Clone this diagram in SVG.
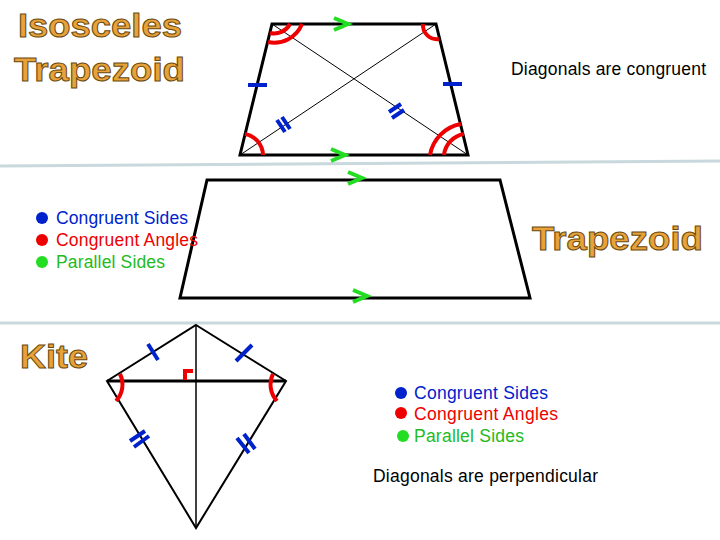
<svg xmlns="http://www.w3.org/2000/svg" width="720" height="540" viewBox="0 0 720 540">
<style>
.t{font-family:"Liberation Sans",Arial,sans-serif;font-weight:bold;font-size:34px;fill:#E8A23A;stroke:#6b4a10;stroke-width:1}
.l{font-family:"Liberation Sans",Arial,sans-serif;font-size:17.5px}
.e{fill:none;stroke:#000;stroke-width:3}
.d{fill:none;stroke:#000;stroke-width:1}
.r{fill:none;stroke:#e00;stroke-width:4}
.b{fill:none;stroke:#0022cc;stroke-width:4}
.g{fill:none;stroke:#22dd22;stroke-width:4}
.s{stroke:#c8d8dc;stroke-width:3}
</style>
<rect width="720" height="540" fill="#fff"/>
<line class="s" x1="0" y1="166" x2="720" y2="161"/>
<line class="s" x1="0" y1="323" x2="720" y2="323"/>
<g id="titles">
<text class="t" x="18" y="37" textLength="164" lengthAdjust="spacingAndGlyphs">Isosceles</text>
<text class="t" x="14" y="81" textLength="171" lengthAdjust="spacingAndGlyphs">Trapezoid</text>
<text class="t" x="532" y="250" textLength="171" lengthAdjust="spacingAndGlyphs">Trapezoid</text>
<text class="t" x="20" y="368" textLength="68" lengthAdjust="spacingAndGlyphs">Kite</text>
</g>
<g id="iso">
<polygon class="e" points="272,24 436,24 468,155 240,155"/>
<line class="d" x1="272" y1="24" x2="468" y2="155"/>
<line class="d" x1="436" y1="24" x2="240" y2="155"/>
<path class="r" d="M302,24 A30,30 0 0 1 268,42"/>
<path class="r" d="M290,24 A18,18 0 0 1 270,33"/>
<path class="r" d="M423,24 A14,14 0 0 0 439,39"/>
<path class="r" d="M263,155 A22,22 0 0 0 245,134"/>
<path class="r" d="M430,155 A38,38 0 0 1 461,124"/>
<path class="r" d="M444,155 A24,24 0 0 1 464,134"/>
<line class="b" x1="248" y1="85" x2="267" y2="85"/>
<line class="b" x1="443" y1="84" x2="462" y2="84"/>
<path class="b" d="M277,120 L285,132 M282,117 L290,129"/>
<path class="b" d="M389,112 L401,104 M392,118 L404,110"/>
<path class="g" d="M334,18 L348,24 L334,30"/>
<path class="g" d="M331,149 L345,155 L331,161"/>
</g>
<g id="trap">
<polygon class="e" points="207,180 500,180 530,298 180,298"/>
<path class="g" d="M348,172 L362,178 L348,184"/>
<path class="g" d="M353,290 L367,296 L353,302"/>
</g>
<g id="legend1">
<circle cx="42" cy="218" r="6" fill="#0022cc"/>
<circle cx="42" cy="240" r="6" fill="#e00"/>
<circle cx="42" cy="262" r="6" fill="#22dd22"/>
<text class="l" x="56" y="224" fill="#0022cc" textLength="132">Congruent Sides</text>
<text class="l" x="56" y="246" fill="#e00" textLength="142">Congruent Angles</text>
<text class="l" x="56" y="268" fill="#22bb22" textLength="109">Parallel Sides</text>
<text class="l" x="511" y="75" fill="#000" textLength="195">Diagonals are congruent</text>
</g>
<g id="kite">
<polygon class="e" points="196,325 286,381 196,528 107,381" style="stroke-width:2"/>
<line class="e" x1="107" y1="381" x2="286" y2="381"/>
<line class="d" x1="196" y1="325" x2="196" y2="528" style="stroke-width:1.5"/>
<path class="r" d="M120,374 A24,24 0 0 1 116,401"/>
<path class="r" d="M273,374 A24,24 0 0 0 277,401"/>
<path class="r" d="M185,380 L185,371 L193,371"/>
<line class="b" x1="148" y1="344" x2="158" y2="360"/>
<line class="b" x1="236" y1="361" x2="252" y2="345"/>
<path class="b" d="M130,441 L145,431 M134,447 L149,436"/>
<path class="b" d="M237,438 L249,453 M244,434 L255,449"/>
</g>
<g id="legend2">
<circle cx="401" cy="393" r="6" fill="#0022cc"/>
<circle cx="401" cy="413" r="6" fill="#e00"/>
<circle cx="403" cy="436" r="6" fill="#22dd22"/>
<text class="l" x="414" y="399" fill="#0022cc" textLength="134">Congruent Sides</text>
<text class="l" x="414" y="420" fill="#e00" textLength="144">Congruent Angles</text>
<text class="l" x="414" y="442" fill="#22bb22" textLength="110">Parallel Sides</text>
<text class="l" x="373" y="482" fill="#000" textLength="225">Diagonals are perpendicular</text>
</g>
</svg>
